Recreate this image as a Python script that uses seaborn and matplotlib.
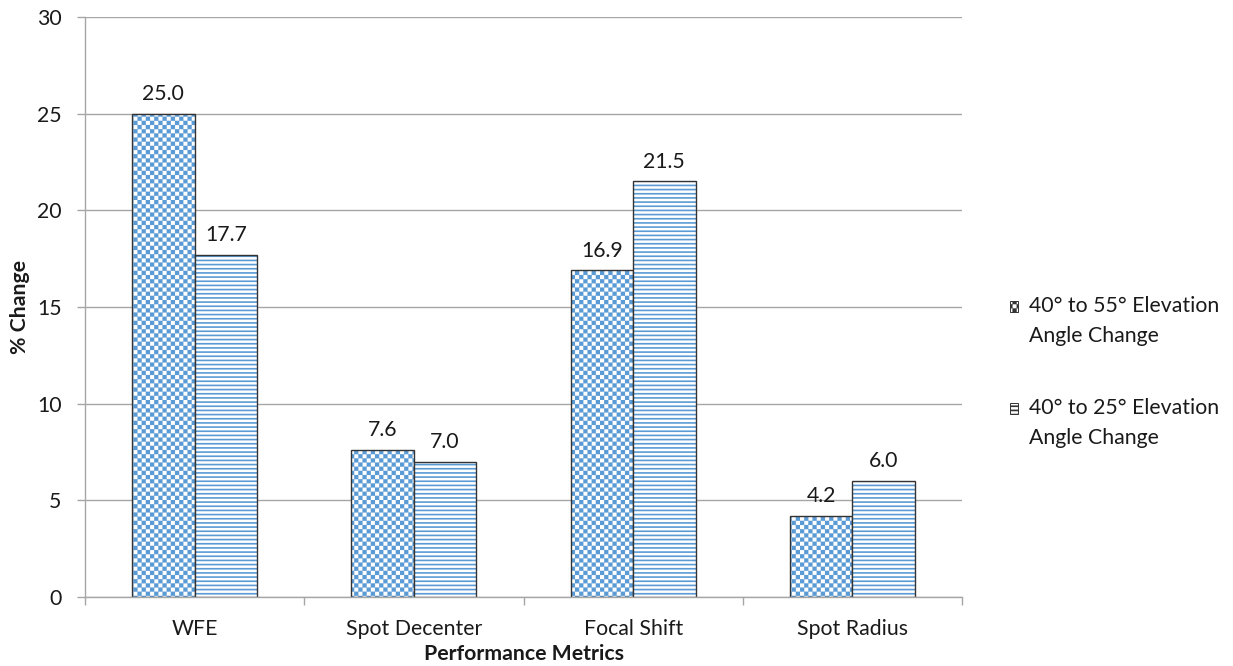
import matplotlib
matplotlib.use("Agg")
import matplotlib.pyplot as plt
import matplotlib.hatch as mhatch
from matplotlib.path import Path
import numpy as np
import seaborn as sns
import pandas as pd
from matplotlib.ticker import FixedLocator

categories = ["WFE", "Spot Decenter", "Focal Shift", "Spot Radius"]
series_names = ["40° to 55° Elevation\nAngle Change", "40° to 25° Elevation\nAngle Change"]
values_55 = [25.0, 7.6, 16.9, 4.2]
values_25 = [17.7, 7.0, 21.5, 6.0]
y_ticks = [0, 5, 10, 15, 20, 25, 30]


# checkerboard hatch, used in place of the '*' pattern
class CheckerHatch(mhatch.HatchPatternBase):
    def __init__(self, hatch, density):
        cnt = hatch.count('*')
        self.n = int(cnt * density)
        if self.n % 2:
            self.n += 1
        self.cells = [(i, j) for i in range(self.n) for j in range(self.n) if (i + j) % 2 == 0]
        self.num_vertices = len(self.cells) * 5

    def set_vertices_and_codes(self, vertices, codes):
        s = 1.0 / self.n
        sq = np.array([[0, 0], [1, 0], [1, 1], [0, 1], [0, 0]], float) * s
        sc = [Path.MOVETO, Path.LINETO, Path.LINETO, Path.LINETO, Path.CLOSEPOLY]
        vparts, cparts = [], []
        for i, j in self.cells:
            vparts.append(sq + [i * s, j * s])
            cparts.append(sc)
        vertices[:] = np.concatenate(vparts)
        codes[:] = np.concatenate(cparts)


mhatch._hatch_types = [CheckerHatch if t is mhatch.Stars else t for t in mhatch._hatch_types]

df = pd.DataFrame({
    "Metric": categories * 2,
    "Series": [series_names[0]] * 4 + [series_names[1]] * 4,
    "Value": values_55 + values_25,
})

sns.set_theme(style="white")
plt.rcParams["font.family"] = ["Lato", "DejaVu Sans"]
plt.rcParams["hatch.linewidth"] = 1.2

blue = "#5B9BD5"
dark = "#1a1a1a"
grid_c = "#a6a6a6"
fs = 15.3

fig = plt.figure(figsize=(12.33, 6.66), dpi=100)
ax = fig.add_axes([85 / 1233, 1 - 597 / 666, 877 / 1233, 580 / 666])

sns.barplot(data=df, x="Metric", y="Value", hue="Series", order=categories,
            hue_order=series_names, palette=[blue, "white"], width=0.57,
            ax=ax, edgecolor="#333333", linewidth=1.0, saturation=1, legend=True)


def style_patch(p, idx):
    p.set_facecolor("white")
    p._hatch_color = matplotlib.colors.to_rgba(blue)
    if idx == 0:
        p.set_hatch("****")
        if hasattr(p, "set_hatch_linewidth"):
            p.set_hatch_linewidth(0.1)
    else:
        p.set_hatch("----")
        if hasattr(p, "set_hatch_linewidth"):
            p.set_hatch_linewidth(1.2)


for i, cont in enumerate(ax.containers):
    for p in cont.patches:
        style_patch(p, i)
    ax.bar_label(cont, fmt="%.1f", padding=7, fontsize=fs, color=dark)

ax.set_ylim(0, 30)
ax.set_xlim(-0.5, 3.5)
ax.set_yticks(y_ticks)
ax.yaxis.grid(True, color=grid_c, linewidth=1.0)
ax.set_axisbelow(True)
for s in ["top", "right"]:
    ax.spines[s].set_visible(False)
for s in ["left", "bottom"]:
    ax.spines[s].set_color(grid_c)
    ax.spines[s].set_linewidth(1.0)

ax.xaxis.set_minor_locator(FixedLocator([-0.5, 0.5, 1.5, 2.5, 3.5]))
ax.tick_params(axis="x", which="major", length=0, labelsize=fs, pad=16, colors=dark)
ax.tick_params(axis="x", which="minor", length=5.5, color=grid_c, width=1.0, direction="out", bottom=True)
ax.tick_params(axis="y", length=5.8, color=grid_c, width=1.0, direction="out", left=True,
               labelsize=fs, pad=11, labelcolor=dark)

ax.set_xlabel("Performance Metrics", fontsize=fs, fontweight="bold", color=dark)
ax.set_ylabel("% Change", fontsize=fs, fontweight="bold", color=dark)
ax.xaxis.set_label_coords(0.5, -0.1078)
ax.xaxis.label.set_va("baseline")
ax.yaxis.set_label_coords(-0.0741, 0.5)
ax.yaxis.label.set_va("center")

handles, labels = ax.get_legend_handles_labels()
leg = ax.legend(handles, labels, loc="center left", bbox_to_anchor=(1.0547, 0.388),
                frameon=False, fontsize=fs, handlelength=0.4, handleheight=0.4,
                handletextpad=0.48, labelspacing=2.44, borderpad=0, borderaxespad=0,
                labelcolor=dark)
line_sp = 1.61
for t in leg.get_texts():
    t.set_linespacing(line_sp)
for i, h in enumerate(leg.legend_handles):
    style_patch(h, i)
    h.set_edgecolor("#333333")
    h.set_linewidth(0.7)
    h.set_y(h.get_y() + 10.7)

fig.savefig("out.png", dpi=100)
